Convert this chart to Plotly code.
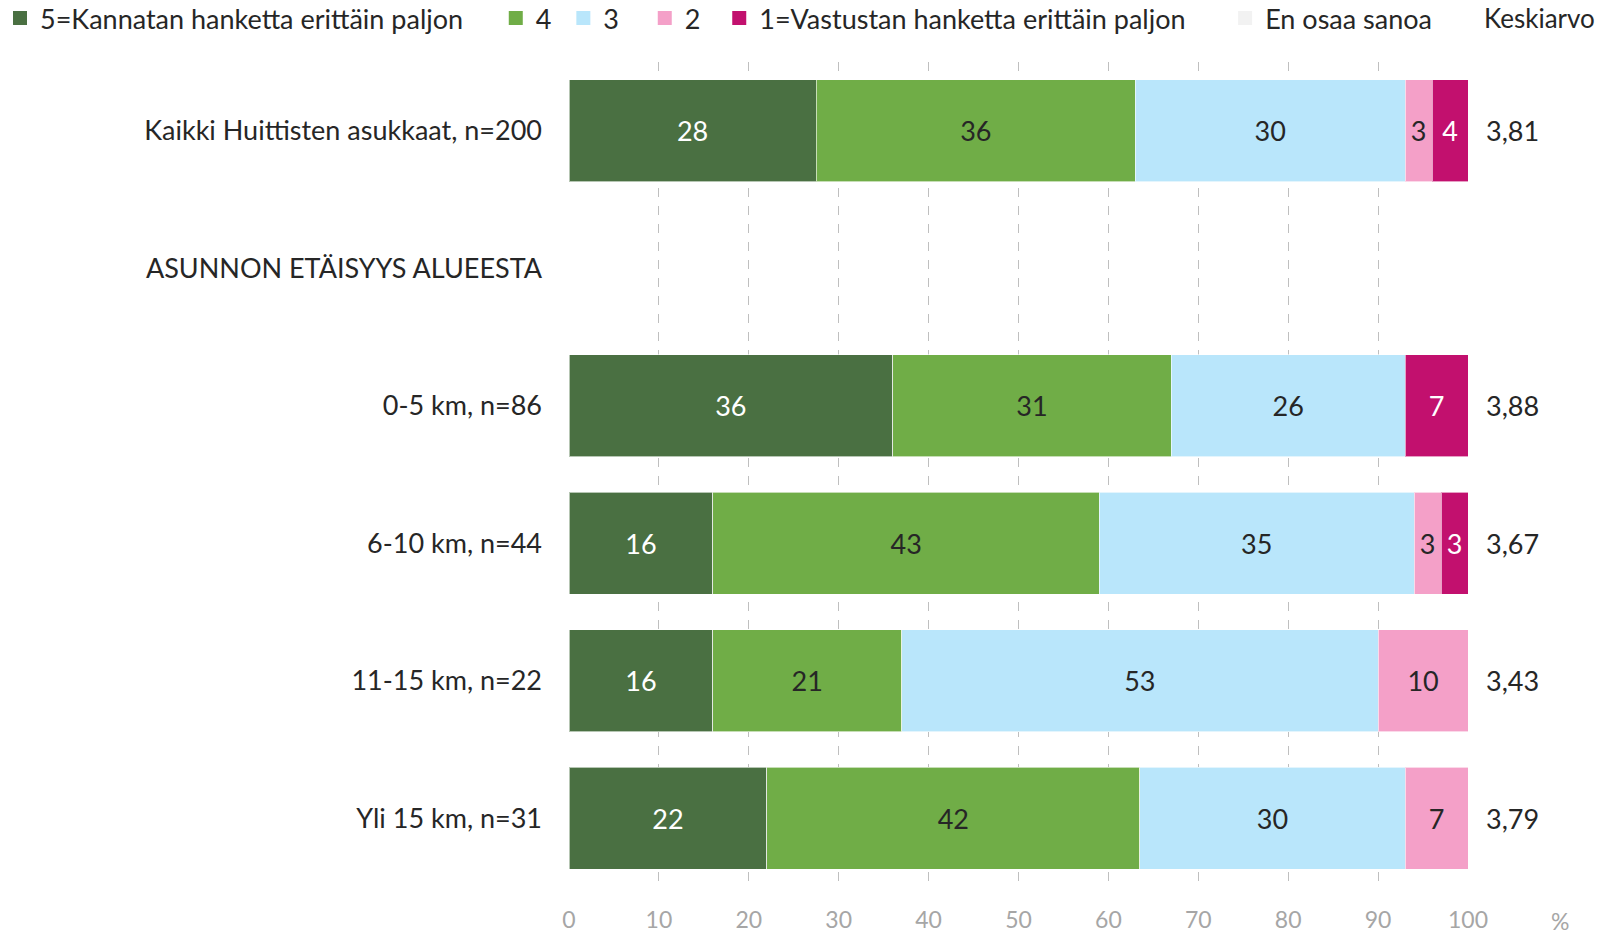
import plotly.graph_objects as go

rows = ["Kaikki Huittisten asukkaat, n=200", "ASUNNON ETÄISYYS ALUEESTA",
        "0-5 km, n=86", "6-10 km, n=44", "11-15 km, n=22", "Yli 15 km, n=31"]
series_names = ["5=Kannatan hanketta erittäin paljon", "4", "3", "2",
                "1=Vastustan hanketta erittäin paljon", "En osaa sanoa"]
v5 = [27.5, None, 36, 16, 16, 22]
v4 = [35.5, None, 31, 43, 21, 41.5]
v3 = [30, None, 26, 35, 53, 29.5]
v2 = [3, None, 0, 3, 10, 7]
v1 = [4, None, 7, 3, 0, 0]
veos = [0, None, 0, 0, 0, 0]
means = ["3,81", "", "3,88", "3,67", "3,43", "3,79"]
x_ticks = [0, 10, 20, 30, 40, 50, 60, 70, 80, 90, 100]

colors = ["#4A7042", "#70AD47", "#B9E6FB", "#F4A0C8", "#C2106E", "#F2F2F2"]
text_colors = ["white", "#262626", "#262626", "#262626", "white", "#262626"]
legend_pad = [4, 1, 3, 2, 5, 0]
FONT = "Lato"
FS = 27

fig = go.Figure()
for name, vals, col, tcol in zip(series_names, [v5, v4, v3, v2, v1, veos], colors, text_colors):
    txt = [("" if (v is None or v == 0) else str(round(v))) for v in vals]
    fig.add_trace(go.Bar(
        y=rows, x=vals, orientation="h", name=name, showlegend=False,
        marker=dict(color=col, line=dict(color="rgba(255,255,255,0.6)", width=1)),
        text=txt, textposition="inside", insidetextanchor="middle", textangle=0,
        textfont=dict(family=FONT, size=FS, color=tcol),
        hoverinfo="skip",
    ))
# legend entries (square swatches)
for name, col, p in zip(series_names, colors, legend_pad):
    fig.add_trace(go.Scatter(
        x=[None], y=[None], mode="markers", name=name + "\u00a0" * p,
        marker=dict(symbol="square", size=14, color=col), hoverinfo="skip",
    ))

for r, m in zip(rows, means):
    if m:
        fig.add_annotation(x=1.0178, xref="paper", y=r, yref="y", text=m,
                           showarrow=False, xanchor="left",
                           font=dict(family=FONT, size=FS, color="#262626"))
fig.add_annotation(x=1.1435, xref="paper", y=1.0528, yref="paper", text="Keskiarvo",
                   showarrow=False, xanchor="right", yanchor="middle",
                   font=dict(family=FONT, size=26, color="#262626"))
fig.add_annotation(x=1.1023, xref="paper", y=-0.041, yref="paper", text="%",
                   showarrow=False, xanchor="center", yanchor="middle",
                   font=dict(family=FONT, size=23, color="#A6A6A6"))

fig.update_layout(
    barmode="stack", bargap=0.26,
    width=1599, height=935,
    margin=dict(l=569, r=131, t=62, b=48, pad=0, autoexpand=False),
    paper_bgcolor="white", plot_bgcolor="white",
    font=dict(family=FONT, color="#262626"),
    legend=dict(orientation="h", x=-0.6329, xanchor="left", y=1.0528, yanchor="middle",
                font=dict(family=FONT, size=FS, color="#262626"),
                traceorder="normal", bgcolor="rgba(0,0,0,0)"),
    showlegend=True,
)
fig.update_xaxes(range=[0, 100], tickvals=x_ticks, showgrid=True, griddash="dash",
                 gridcolor="#BFBFBF", gridwidth=1, zeroline=False, showline=False,
                 tickfont=dict(family=FONT, size=23, color="#A6A6A6"),
                 ticklabelstandoff=17, fixedrange=True)
fig.update_yaxes(categoryorder="array", categoryarray=rows, autorange="reversed",
                 showgrid=False, zeroline=False, showline=False,
                 tickfont=dict(family=FONT, size=FS, color="#262626"),
                 ticklabelstandoff=26, fixedrange=True)

fig.write_html("out.html", config={"displayModeBar": False},
               post_script="document.body.style.margin='0';document.body.style.overflow='hidden';")
